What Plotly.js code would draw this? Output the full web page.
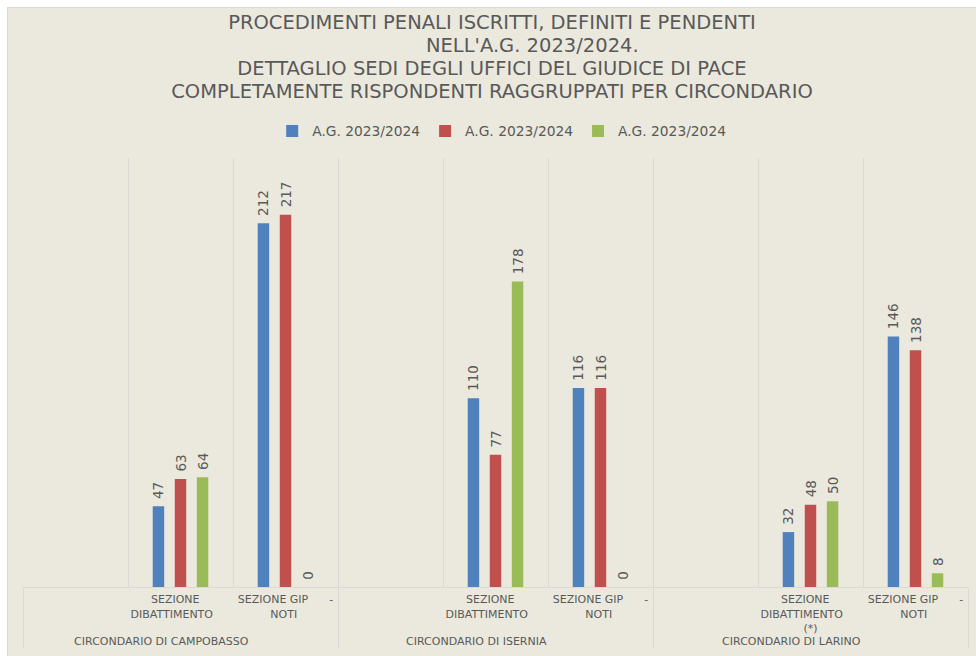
<!DOCTYPE html>
<html>
<head>
<meta charset="utf-8">
<script src="https://cdn.plot.ly/plotly-3.0.1.min.js"></script>
<style>
  html, body { margin: 0; padding: 0; background: #ffffff; overflow: hidden; }
  #wrap { position: absolute; left: 7px; top: 7px; border-left: 1px solid #d9d9d9; border-top: 1px solid #d9d9d9; }
  #chart { width: 968px; height: 648px; }
</style>
</head>
<body>
<div id="wrap"><div id="chart"></div></div>
<script>
// Outer categories (circondari) and inner categories (sezioni), listed section by section
const circondari = [
  "CIRCONDARIO DI CAMPOBASSO", "CIRCONDARIO DI ISERNIA", "CIRCONDARIO DI LARINO",
  "CIRCONDARIO DI CAMPOBASSO", "CIRCONDARIO DI ISERNIA", "CIRCONDARIO DI LARINO",
  "CIRCONDARIO DI CAMPOBASSO", "CIRCONDARIO DI ISERNIA", "CIRCONDARIO DI LARINO"
];
const sezioni = [
  "", "", "",
  "SEZIONE<br>DIBATTIMENTO", "SEZIONE<br>DIBATTIMENTO", "SEZIONE<br>DIBATTIMENTO<br>(*)",
  "SEZIONE GIP      -<br>NOTI",
  "SEZIONE GIP      -<br>NOTI",
  "SEZIONE GIP      -<br>NOTI"
];
const seriesNames = ["A.G. 2023/2024", "A.G. 2023/2024", "A.G. 2023/2024"];
const serie1 = [null, null, null, 47, 110, 32, 212, 116, 146];
const serie2 = [null, null, null, 63, 77, 48, 217, 116, 138];
const serie3 = [null, null, null, 64, 178, 50, 0, 0, 8];
const titleLines = [
  "PROCEDIMENTI PENALI ISCRITTI, DEFINITI E PENDENTI",
  "             NELL'A.G. 2023/2024.",
  "DETTAGLIO SEDI DEGLI UFFICI DEL GIUDICE DI PACE",
  "COMPLETAMENTE RISPONDENTI RAGGRUPPATI PER CIRCONDARIO"
];

const colors = ["#4f81bd", "#c0504d", "#9bbb59"];
const textColor = "#595959";
const gridColor = "#d9d9d6";
const bg = "#ebe9de";

// Spaces are kept as non-breaking so that they are not collapsed in SVG text.
const nb = s => s.replace(/ /g, "\u00a0");
// Excel draws these labels slightly left of the slot centre: pad on the right.
const padRight = (s, n) => s + "\u00a0".repeat(n);
const outerLabels = circondari.map(s => padRight(nb(s), 11));
const innerLabels = sezioni.map(s => {
  if (s === "") return "\u00a0";
  if (s.indexOf("DIBATTIMENTO") >= 0) {
    const parts = s.split("<br>");
    return [padRight(parts[0], 3), padRight(parts[1], 5)].concat(parts.slice(2)).join("<br>");
  }
  const parts = s.split("<br>");
  return [nb(parts[0]), padRight(parts[1], 1)].join("<br>");
});

const allSeries = [serie1, serie2, serie3];
const traces = allSeries.map((vals, i) => ({
  type: "bar",
  name: seriesNames[i],
  x: [outerLabels, innerLabels],
  y: vals,
  marker: { color: colors[i] },
  texttemplate: "\u00a0%{y}",
  textposition: "outside",
  textangle: -90,
  constraintext: "none",
  cliponaxis: false,
  textfont: { family: "DejaVu Sans", size: 13.5, color: textColor },
  hoverinfo: "skip"
}));

const layout = {
  width: 968,
  height: 648,
  paper_bgcolor: bg,
  plot_bgcolor: bg,
  font: { family: "DejaVu Sans", color: textColor },
  margin: { l: 15, r: 8, t: 150, b: 69 },
  title: {
    text: titleLines.map(t => '<span style="font-size:19.5px">' + nb(t) + '</span>').join("<br>"),
    font: { family: "DejaVu Sans", size: 17.5, color: textColor },
    x: 0.5, xanchor: "center", xref: "container",
    y: 0.967, yanchor: "top", yref: "container"
  },
  showlegend: true,
  legend: {
    orientation: "h",
    xref: "container", yref: "container",
    x: 0.51, xanchor: "center",
    y: 0.81, yanchor: "middle",
    font: { family: "DejaVu Sans", size: 13.8, color: textColor },
    bgcolor: "rgba(0,0,0,0)",
    itemwidth: 30,
    traceorder: "normal"
  },
  barmode: "group",
  bargap: 0.37,
  bargroupgap: 0.48,
  xaxis: {
    type: "multicategory",
    tickson: "boundaries",
    tickangle: 0,
    showgrid: true,
    gridcolor: gridColor,
    gridwidth: 1,
    showline: true,
    linecolor: gridColor,
    linewidth: 1,
    ticks: "",
    ticklabelstandoff: 2,
    showdividers: true,
    dividercolor: gridColor,
    dividerwidth: 1,
    tickfont: { family: "DejaVu Sans", size: 11, color: textColor },
    zeroline: false
  },
  yaxis: {
    range: [0, 250],
    visible: false,
    showgrid: false,
    zeroline: false
  }
};

Plotly.newPlot("chart", traces, layout, { displayModeBar: false, staticPlot: true });
</script>
</body>
</html>
